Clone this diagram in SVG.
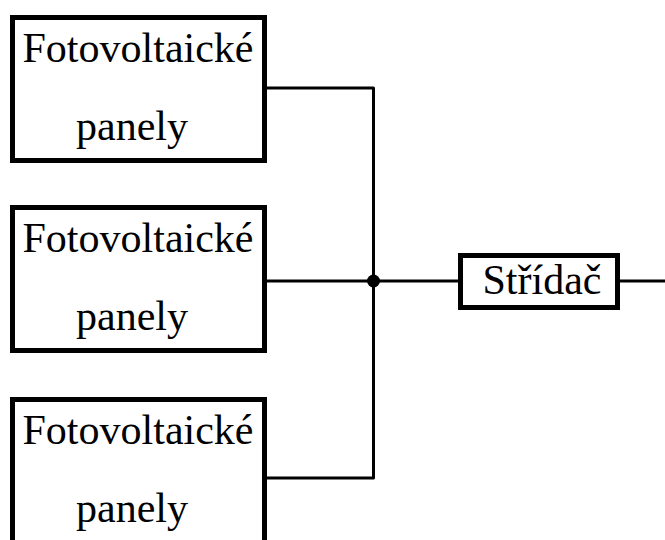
<svg xmlns="http://www.w3.org/2000/svg" width="665" height="540" viewBox="0 0 665 540">
  <style>
    .box { fill: #fff; stroke: #000; stroke-width: 5; }
    .wire { fill: none; stroke: #000; stroke-width: 3; stroke-linejoin: round; }
    .label { font-family: "Liberation Serif", "Times New Roman", serif; font-size: 42px; fill: #000; text-anchor: middle; }
  </style>
  <rect width="665" height="540" fill="#fff"/>

  <!-- wiring: three panel strings joined at a node, feeding the inverter -->
  <g id="connectors">
    <polyline class="wire" points="267,88 373.5,88 373.5,478 267,478"/>
    <line class="wire" x1="267" y1="281" x2="458" y2="281"/>
    <line class="wire" x1="620" y1="281" x2="665" y2="281"/>
    <circle cx="373.5" cy="281" r="6.5" fill="#000"/>
  </g>

  <g id="panel-1">
    <rect class="box" x="12.5" y="17.5" width="252" height="143"/>
    <text class="label" x="138" y="62">Fotovoltaické</text>
    <text class="label" x="132" y="140">panely</text>
  </g>

  <g id="panel-2">
    <rect class="box" x="12.5" y="207.5" width="252" height="143"/>
    <text class="label" x="138" y="252">Fotovoltaické</text>
    <text class="label" x="132" y="330">panely</text>
  </g>

  <g id="panel-3">
    <rect class="box" x="12.5" y="399.5" width="252" height="143"/>
    <text class="label" x="138" y="444">Fotovoltaické</text>
    <text class="label" x="132" y="522">panely</text>
  </g>

  <g id="inverter">
    <rect class="box" x="460.5" y="255.5" width="157" height="52"/>
    <text class="label" x="542" y="294">Střídač</text>
  </g>
</svg>
